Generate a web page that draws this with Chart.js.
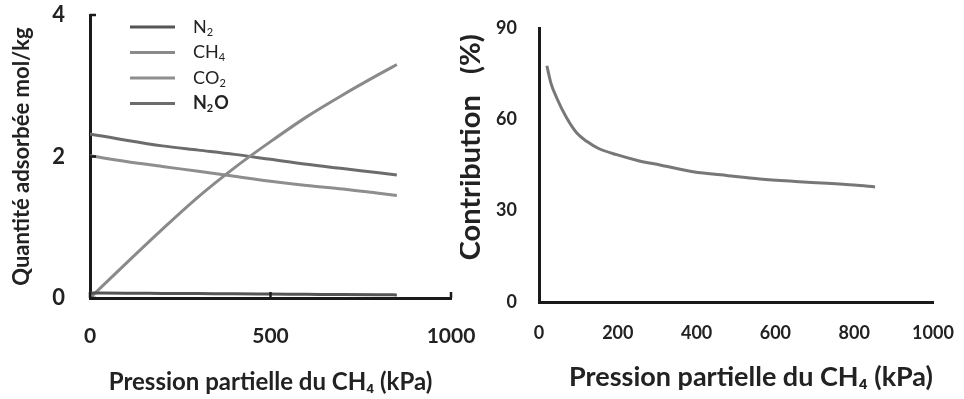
<!DOCTYPE html>
<html>
<head>
<meta charset="utf-8">
<script src="https://cdn.jsdelivr.net/npm/chart.js@4/dist/chart.umd.min.js"></script>
<style>
    body { margin: 0; background: #fff; width: 964px; height: 399px; overflow: hidden; position: relative; }
    #wrapLeft { position: absolute; left: 0; top: 0; width: 480px; height: 399px; }
    #wrapRight { position: absolute; left: 460px; top: 0; width: 504px; height: 399px; }
</style>
</head>
<body>
<div id="wrapLeft"><canvas id="adsorption"></canvas></div>
<div id="wrapRight"><canvas id="contribution"></canvas></div>
<script>
// pression partielle du CH4 (kPa) - graphe de gauche
const pressure = [0, 100, 200, 300, 400, 500, 600, 700, 800, 850];
const n2  = [0.07, 0.068, 0.065, 0.062, 0.06, 0.056, 0.052, 0.048, 0.045, 0.044];
const ch4 = [0, 0.49, 0.97, 1.43, 1.84, 2.21, 2.56, 2.87, 3.16, 3.30];
const co2 = [2.01, 1.93, 1.86, 1.79, 1.72, 1.65, 1.59, 1.54, 1.48, 1.45];
const n2o = [2.32, 2.23, 2.15, 2.09, 2.03, 1.96, 1.89, 1.83, 1.77, 1.74];
const legendNames = ['N₂', 'CH₄', 'CO₂', 'N₂O'];

// graphe de droite
const pressureContrib = [20, 30, 45, 70, 96, 122, 150, 197, 250, 307, 391, 480, 561, 650, 731, 800, 853];
const contribution = [77.6, 72, 67, 60.5, 55.5, 52.7, 50.5, 48.4, 46.5, 45, 42.8, 41.5, 40.4, 39.6, 39, 38.4, 37.8];

const xTitle = 'Pression partielle du CH₄ (kPa)';
const FONT = 'Lato, "DejaVu Sans", sans-serif';

Chart.defaults.font.family = FONT;
Chart.defaults.color = '#222';

function pts(xs, ys) {
    return xs.map((x, i) => ({ x: x, y: ys[i] }));
}

// ecrit un texte avec les chiffres indices plus petits et decales vers le bas
function drawSubText(ctx, text, x, y, size, weight) {
    const subs = '₀₁₂₃₄₅₆₇₈₉';
    for (const ch of text) {
        const k = subs.indexOf(ch);
        if (k >= 0) {
            ctx.font = weight + ' ' + Math.round(size * 0.62) + 'px ' + FONT;
            ctx.fillText(String(k), x, y + size * 0.28);
            x += ctx.measureText(String(k)).width + 1;
        } else {
            ctx.font = weight + ' ' + size + 'px ' + FONT;
            ctx.fillText(ch, x, y);
            x += ctx.measureText(ch).width;
        }
    }
}

// legende dessinee a la main (verticale, dans la zone du graphe)
const sideLegend = {
    id: 'sideLegend',
    afterDraw(chart) {
        const ctx = chart.ctx;
        ctx.save();
        legendNames.forEach((name, i) => {
            const y = 27 + i * 25.5;
            ctx.strokeStyle = chart.data.datasets[i].borderColor;
            ctx.lineWidth = 3;
            ctx.beginPath();
            ctx.moveTo(130, y);
            ctx.lineTo(175, y);
            ctx.stroke();
            ctx.fillStyle = '#222';
            ctx.textBaseline = 'middle';
            drawSubText(ctx, name, 193, y, 18, i == 3 ? 'bold' : 'normal');
        });
        ctx.restore();
    }
};

// petits traits de graduation vers l'interieur
const innerTicks = {
    id: 'innerTicks',
    afterDraw(chart) {
        const ctx = chart.ctx;
        const x = chart.scales.x, y = chart.scales.y;
        ctx.save();
        ctx.strokeStyle = '#1a1a1a';
        ctx.lineWidth = 2.5;
        y.ticks.forEach(t => {
            const py = y.getPixelForValue(t.value);
            ctx.beginPath(); ctx.moveTo(x.left, py); ctx.lineTo(x.left + 6, py); ctx.stroke();
        });
        x.ticks.forEach(t => {
            const px = x.getPixelForValue(t.value);
            ctx.beginPath(); ctx.moveTo(px, y.bottom); ctx.lineTo(px, y.bottom - 6); ctx.stroke();
        });
        ctx.restore();
    }
};

const lineColors = ['#555555', '#8a8a8a', '#8e8e8e', '#6c6c6c'];
const series = [n2, ch4, co2, n2o];

const axisBorder = { display: true, color: '#1a1a1a', width: 3 };
const noGrid = { drawOnChartArea: false, drawTicks: false };
const plain = v => String(v);

new Chart(document.getElementById('adsorption'), {
    type: 'line',
    data: {
        datasets: series.map((s, i) => ({
            label: legendNames[i],
            data: pts(pressure, s),
            borderColor: lineColors[i],
            borderWidth: 3,
            pointRadius: 0,
            cubicInterpolationMode: 'monotone',
            fill: false
        }))
    },
    options: {
        responsive: true,
        maintainAspectRatio: false,
        animation: false,
        layout: { padding: { left: 0, right: 29, top: 15, bottom: 0 } },
        plugins: { legend: { display: false }, tooltip: { enabled: false } },
        scales: {
            x: {
                type: 'linear',
                min: 0, max: 1000,
                ticks: { stepSize: 500, padding: 26, callback: plain, font: { size: 21, weight: 'bold' } },
                grid: noGrid,
                border: axisBorder,
                title: { display: true, text: xTitle, padding: { top: 0, bottom: 2 }, font: { size: 24, weight: 'bold' } },
                afterFit(scale) { scale.height = 101; scale.paddingLeft = 0; scale.paddingRight = 0; }
            },
            y: {
                min: 0, max: 4,
                ticks: { stepSize: 2, padding: 25, callback: plain, font: { size: 22, weight: 'bold' } },
                grid: noGrid,
                border: axisBorder,
                title: { display: true, text: 'Quantité adsorbée mol/kg', padding: { top: 9, bottom: 0 }, font: { size: 22, weight: 'bold' } },
                afterFit(scale) { scale.width = 90; scale.paddingTop = 0; scale.paddingBottom = 0; }
            }
        }
    },
    plugins: [sideLegend, innerTicks]
});

new Chart(document.getElementById('contribution'), {
    type: 'line',
    data: {
        datasets: [{
            label: 'Contribution',
            data: pts(pressureContrib, contribution),
            borderColor: '#777777',
            borderWidth: 3,
            pointRadius: 0,
            cubicInterpolationMode: 'monotone',
            fill: false
        }]
    },
    options: {
        responsive: true,
        maintainAspectRatio: false,
        animation: false,
        layout: { padding: { left: 0, right: 31, top: 28, bottom: 0 } },
        plugins: { legend: { display: false }, tooltip: { enabled: false } },
        scales: {
            x: {
                type: 'linear',
                min: 0, max: 1000,
                ticks: { stepSize: 200, padding: 20, callback: plain, font: { size: 18, weight: 'bold' } },
                grid: noGrid,
                border: axisBorder,
                title: { display: true, text: xTitle, align: 'end', padding: { top: 0, bottom: 6 }, font: { size: 27, weight: 'bold' } },
                afterFit(scale) { scale.height = 97; scale.paddingLeft = 0; scale.paddingRight = 0; }
            },
            y: {
                min: 0, max: 90,
                ticks: { stepSize: 30, padding: 22, callback: plain, font: { size: 18, weight: 'bold' } },
                grid: noGrid,
                border: axisBorder,
                title: { display: true, text: '     Contribution   (%)', padding: { top: 0, bottom: 0 }, font: { size: 29, weight: 'bold', lineHeight: 0.7 } },
                afterFit(scale) { scale.width = 79; scale.paddingTop = 0; scale.paddingBottom = 0; }
            }
        }
    }
});
</script>
</body>
</html>
